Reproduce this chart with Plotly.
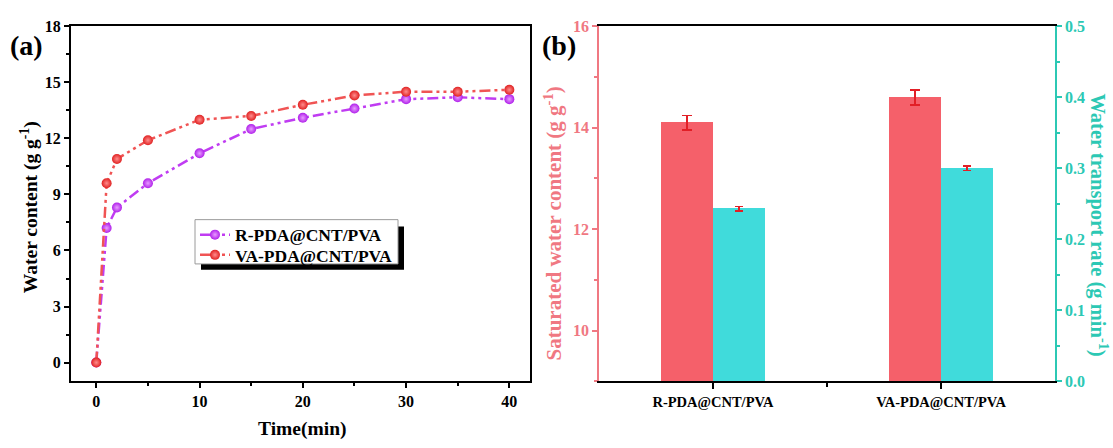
import plotly.graph_objects as go

# ---- data -------------------------------------------------------------
time_min = [0, 1, 2, 5, 10, 15, 20, 25, 30, 35, 40]
r_pda = [0, 7.2, 8.3, 9.6, 11.2, 12.5, 13.1, 13.6, 14.1, 14.2, 14.1]
va_pda = [0, 9.6, 10.9, 11.9, 13.0, 13.2, 13.8, 14.3, 14.5, 14.5, 14.6]

samples = ["R-PDA@CNT/PVA", "VA-PDA@CNT/PVA"]
saturated = [14.1, 14.6]
saturated_err = [0.14, 0.15]
rate = [0.243, 0.300]
rate_err = [0.003, 0.003]

# ---- styling ----------------------------------------------------------
W, H = 1113, 448
FONT = "Liberation Serif"
PURPLE = "#C03CF2"
RED_LINE = "#F05454"
BAR_RED = "#F5606A"
BAR_CYAN = "#40DBDB"
AX_RED = "#F07882"
AX_CYAN = "#2CC8B4"
ERR = "#E21F26"
DASH = "11px,4px,3px,4px,3px,4px"


def px_x(x):
    return x / W


def px_y(y):
    return 1 - y / H


fig = go.Figure()

# ---- panel (a): water uptake curves ---------------------------------
fig.add_trace(go.Scatter(
    x=time_min, y=r_pda, name="R-PDA@CNT/PVA", mode="lines+markers",
    line=dict(color=PURPLE, width=2.5, dash=DASH),
    marker=dict(size=10, color="#B020EA", line=dict(width=0),
                gradient=dict(type="radial", color="#E89CFF")),
    xaxis="x", yaxis="y", legend="legend"))
fig.add_trace(go.Scatter(
    x=time_min, y=va_pda, name="VA-PDA@CNT/PVA", mode="lines+markers",
    line=dict(color=RED_LINE, width=2.5, dash=DASH),
    marker=dict(size=10, color="#E02222", line=dict(width=0),
                gradient=dict(type="radial", color="#FF8C8C")),
    xaxis="x", yaxis="y", legend="legend2"))

# ---- panel (b): saturated water content & transport rate -------------
idx = list(range(len(samples)))
fig.add_trace(go.Bar(
    x=idx, y=saturated, width=0.226, offset=-0.226,
    marker=dict(color=BAR_RED, line=dict(width=0)),
    error_y=dict(type="data", array=saturated_err, color=ERR, thickness=1.8, width=5),
    showlegend=False, xaxis="x2", yaxis="y2"))
fig.add_trace(go.Bar(
    x=idx, y=rate, width=0.226, offset=0,
    marker=dict(color=BAR_CYAN, line=dict(width=0)),
    error_y=dict(type="data", array=rate_err, color=ERR, thickness=1.5, width=4),
    showlegend=False, xaxis="x2", yaxis="y3"))

tick_font = dict(family=FONT, size=16, color="black", weight="bold")
y_dom = [px_y(388), px_y(19)]
legend_style = dict(x=px_x(195), xanchor="left", yanchor="top",
                    bgcolor="rgba(0,0,0,0)", borderwidth=0,
                    font=dict(family=FONT, size=17.5, color="black", weight="bold"),
                    itemwidth=30)

fig.update_layout(
    width=W, height=H,
    margin=dict(l=0, r=0, t=0, b=0),
    paper_bgcolor="white", plot_bgcolor="white",
    font=dict(family=FONT, color="black"),
    bargap=0,
    xaxis=dict(domain=[px_x(71), px_x(530)], range=[-2.45, 42],
               tickvals=[0, 10, 20, 30, 40], showgrid=False, zeroline=False,
               showline=True, linecolor="black", linewidth=2, mirror=True,
               ticks="outside", ticklen=5, tickwidth=1.5, tickcolor="black",
               minor=dict(dtick=5, tick0=0, ticks="outside", ticklen=3,
                          tickwidth=1.5, tickcolor="black"),
               tickfont=tick_font),
    yaxis=dict(domain=y_dom, range=[-1, 18], tick0=0, dtick=3,
               showgrid=False, zeroline=False,
               showline=True, linecolor="black", linewidth=2, mirror=True,
               ticks="outside", ticklen=5, tickwidth=1.5, tickcolor="black",
               minor=dict(dtick=1.5, tick0=0, ticks="outside", ticklen=3,
                          tickwidth=1.5, tickcolor="black"),
               tickfont=tick_font),
    xaxis2=dict(domain=[px_x(599), px_x(1055)], range=[-0.5, 1.5],
                tickmode="array", tickvals=idx, ticktext=samples,
                showgrid=False, zeroline=False,
                showline=True, linecolor="black", linewidth=2, mirror=True,
                ticks="outside", ticklen=6, tickwidth=1.5, tickcolor="black",
                minor=dict(tickmode="array", tickvals=[0.5], ticks="outside",
                           ticklen=4, tickwidth=1.5, tickcolor="black"),
                tickfont=dict(family=FONT, size=14.5, color="black", weight="bold"),
                anchor="y2"),
    yaxis2=dict(domain=y_dom, range=[9, 16], tick0=0, dtick=2,
                showgrid=False, zeroline=False,
                showline=True, linecolor=AX_RED, linewidth=1.5,
                ticks="outside", ticklen=5, tickwidth=1.5, tickcolor=AX_RED,
                minor=dict(dtick=1, tick0=0, ticks="outside", ticklen=3,
                           tickwidth=1.5, tickcolor=AX_RED),
                tickfont=dict(family=FONT, size=16, color=AX_RED, weight="bold"),
                anchor="x2"),
    yaxis3=dict(range=[0, 0.5], dtick=0.1, tick0=0, tickformat=".1f",
                overlaying="y2", side="right", anchor="x2",
                showgrid=False, zeroline=False,
                showline=True, linecolor=AX_CYAN, linewidth=1.5,
                ticks="outside", ticklen=5, tickwidth=1.5, tickcolor=AX_CYAN,
                minor=dict(dtick=0.05, tick0=0, ticks="outside", ticklen=3,
                           tickwidth=1.5, tickcolor=AX_CYAN),
                tickfont=dict(family=FONT, size=16, color=AX_CYAN, weight="bold")),
    # one legend per row so the rows sit close together on the framed box
    legend=dict(y=px_y(217), **legend_style),
    legend2=dict(y=px_y(238), **legend_style),
)

# legend frame with its offset drop shadow
fig.add_shape(type="rect", xref="paper", yref="paper",
              x0=px_x(201), x1=px_x(404), y0=px_y(272), y1=px_y(227),
              fillcolor="black", line=dict(width=0), layer="above")
fig.add_shape(type="rect", xref="paper", yref="paper",
              x0=px_x(195), x1=px_x(398), y0=px_y(266), y1=px_y(220),
              fillcolor="white", line=dict(color="#9A9A9A", width=1), layer="above")

title_font = dict(family=FONT, size=19.5, color="black", weight="bold")
label_font = dict(family=FONT, size=28, color="black", weight="bold")
annotations = [
    dict(text="(a)", x=px_x(26), y=px_y(39), font=label_font),
    dict(text="(b)", x=px_x(559), y=px_y(39), font=label_font),
    dict(text="Time(min)", x=px_x(302), y=px_y(438), font=title_font),
    dict(text="Water content (g g<sup>-1</sup>)", x=px_x(29), y=px_y(207),
         textangle=-90, font=title_font),
    dict(text="Saturated water content (g g<sup>-1</sup>)", x=px_x(553), y=px_y(224),
         textangle=-90, font=dict(family=FONT, size=21, color=AX_RED, weight="bold")),
    dict(text="Water transport rate (g min<sup>-1</sup>)", x=px_x(1099), y=px_y(225),
         textangle=90, font=dict(family=FONT, size=20.5, color=AX_CYAN, weight="bold")),
]
for a in annotations:
    fig.add_annotation(xref="paper", yref="paper", showarrow=False,
                       xanchor="center", yanchor="middle", **a)

fig.write_html("out.html")
